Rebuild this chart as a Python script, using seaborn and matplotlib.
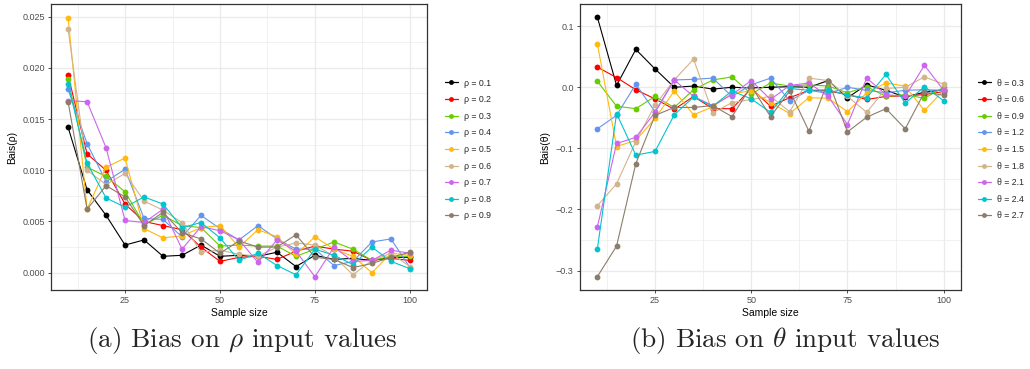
import numpy as np
import pandas as pd
import matplotlib
matplotlib.use("Agg")
import matplotlib.pyplot as plt
from matplotlib.lines import Line2D
from matplotlib.ticker import FixedLocator, FuncFormatter
import seaborn as sns

# ---------------- data ----------------
sample_size = [10, 15, 20, 25, 30, 35, 40, 45, 50, 55, 60, 65, 70, 75, 80, 85, 90, 95, 100]

rho_labels = ["ρ = 0.1", "ρ = 0.2", "ρ = 0.3", "ρ = 0.4", "ρ = 0.5",
              "ρ = 0.6", "ρ = 0.7", "ρ = 0.8", "ρ = 0.9"]
rho_bias = [
    [0.0142, 0.0081, 0.0056, 0.0027, 0.0032, 0.0016, 0.0017, 0.0027, 0.0016, 0.0017, 0.0016, 0.0020, 0.0006, 0.0017, 0.0013, 0.0014, 0.0012, 0.0015, 0.0015],
    [0.0193, 0.0116, 0.0100, 0.0067, 0.0050, 0.0046, 0.0042, 0.0025, 0.0011, 0.0015, 0.0016, 0.0013, 0.0021, 0.0026, 0.0023, 0.0021, 0.0012, 0.0014, 0.0012],
    [0.0189, 0.0103, 0.0094, 0.0079, 0.0047, 0.0056, 0.0046, 0.0044, 0.0026, 0.0027, 0.0026, 0.0026, 0.0016, 0.0023, 0.0030, 0.0023, 0.0012, 0.0016, 0.0016],
    [0.0179, 0.0126, 0.0089, 0.0101, 0.0053, 0.0052, 0.0035, 0.0056, 0.0043, 0.0032, 0.0046, 0.0033, 0.0023, 0.0023, 0.0007, 0.0011, 0.0030, 0.0033, 0.0005],
    [0.0249, 0.0062, 0.0103, 0.0112, 0.0043, 0.0034, 0.0036, 0.0044, 0.0046, 0.0025, 0.0042, 0.0035, 0.0018, 0.0035, 0.0023, 0.0016, 0.0000, 0.0019, 0.0017],
    [0.0238, 0.0100, 0.0086, 0.0097, 0.0070, 0.0061, 0.0049, 0.0020, 0.0022, 0.0018, 0.0016, 0.0025, 0.0029, 0.0027, 0.0016, -0.0002, 0.0012, 0.0019, 0.0006],
    [0.0168, 0.0167, 0.0122, 0.0051, 0.0049, 0.0062, 0.0023, 0.0045, 0.0041, 0.0032, 0.0010, 0.0032, 0.0021, -0.0004, 0.0025, 0.0011, 0.0012, 0.0022, 0.0019],
    [0.0184, 0.0107, 0.0073, 0.0064, 0.0074, 0.0067, 0.0044, 0.0049, 0.0034, 0.0012, 0.0019, 0.0007, -0.0002, 0.0023, 0.0017, 0.0008, 0.0025, 0.0011, 0.0004],
    [0.0167, 0.0062, 0.0085, 0.0074, 0.0046, 0.0059, 0.0039, 0.0033, 0.0019, 0.0031, 0.0025, 0.0025, 0.0037, 0.0015, 0.0013, 0.0005, 0.0009, 0.0015, 0.0020],
]

theta_labels = ["θ = 0.3", "θ = 0.6", "θ = 0.9", "θ = 1.2", "θ = 1.5",
                "θ = 1.8", "θ = 2.1", "θ = 2.4", "θ = 2.7"]
theta_bias = [
    [0.115, 0.003, 0.062, 0.030, 0.000, 0.002, -0.003, 0.000, -0.001, 0.000, 0.001, 0.000, 0.011, -0.017, 0.004, -0.005, -0.016, -0.008, -0.004],
    [0.033, 0.016, -0.004, -0.019, -0.036, -0.015, -0.035, -0.035, -0.002, -0.031, -0.017, -0.005, -0.006, -0.012, -0.020, -0.015, -0.014, -0.012, -0.007],
    [0.010, -0.031, -0.035, -0.015, -0.033, -0.004, 0.012, 0.017, -0.011, 0.007, 0.002, 0.004, 0.002, -0.009, 0.001, -0.015, -0.012, -0.018, 0.000],
    [-0.068, -0.046, 0.005, -0.040, 0.012, 0.013, 0.015, -0.015, 0.004, 0.015, -0.022, -0.005, -0.010, 0.000, -0.005, -0.009, -0.005, -0.004, -0.005],
    [0.0715, -0.097, -0.087, -0.051, -0.006, -0.045, -0.032, -0.010, -0.006, -0.025, -0.043, -0.017, -0.018, -0.040, -0.009, 0.007, 0.002, -0.038, -0.005],
    [-0.194, -0.158, -0.089, -0.029, 0.012, 0.046, -0.042, -0.025, -0.020, -0.015, -0.040, 0.015, 0.011, -0.015, -0.041, -0.002, 0.000, 0.017, 0.005],
    [-0.229, -0.092, -0.082, -0.041, 0.012, -0.015, -0.030, -0.012, 0.011, -0.020, 0.003, 0.007, -0.015, -0.061, 0.015, -0.012, -0.015, 0.036, -0.005],
    [-0.265, -0.043, -0.111, -0.105, -0.045, -0.016, -0.031, -0.006, -0.019, -0.041, -0.002, -0.005, -0.004, -0.013, -0.017, 0.021, -0.026, 0.001, -0.022],
    [-0.310, -0.260, -0.125, -0.046, -0.033, -0.033, -0.030, -0.048, 0.002, -0.048, -0.006, -0.072, 0.011, -0.073, -0.049, -0.035, -0.068, -0.008, -0.013],
]

colors = ["#000000", "#FF0000", "#66CD00", "#6495ED", "#FFB90F",
          "#D2B48C", "#CC66EE", "#00C5CD", "#8B7D6B"]

x_ticks = [25, 50, 75, 100]
rho_ticks = [0.000, 0.005, 0.010, 0.015, 0.020, 0.025]
theta_ticks = [-0.3, -0.2, -0.1, 0.0, 0.1]

# ---------------- style ----------------
sns.set_theme(style="white")
plt.rcParams["font.family"] = ["Liberation Sans", "DejaVu Sans"]
plt.rcParams["mathtext.fontset"] = "cm"

W, H = 1030, 369
fig = plt.figure(figsize=(W / 100, H / 100), dpi=100)


def frac_x(px):
    return px / W


def frac_y(py):
    return (H - py) / H


def make_df(labels, values):
    rows = []
    for lab, vals in zip(labels, values):
        for n, v in zip(sample_size, vals):
            rows.append({"n": n, "bias": v, "param": lab})
    return pd.DataFrame(rows)


def style_axes(ax, yticks, yminor, ylim, fmt, ylabel):
    ax.set_xlim(5.5, 104.5)
    ax.set_ylim(*ylim)
    ax.xaxis.set_major_locator(FixedLocator(x_ticks))
    ax.xaxis.set_minor_locator(FixedLocator([12.5, 37.5, 62.5, 87.5]))
    ax.yaxis.set_major_locator(FixedLocator(yticks))
    ax.yaxis.set_minor_locator(FixedLocator(yminor))
    ax.yaxis.set_major_formatter(FuncFormatter(fmt))
    ax.grid(which="major", color="#EBEBEB", linewidth=1.0)
    ax.grid(which="minor", color="#EBEBEB", linewidth=0.5)
    ax.set_axisbelow(True)
    for s in ax.spines.values():
        s.set_color("#333333")
        s.set_linewidth(0.9)
    ax.tick_params(which="major", length=2.5, width=0.6, color="#333333",
                   labelsize=6.5, labelcolor="#4D4D4D", pad=2, bottom=True, left=True)
    ax.tick_params(which="minor", length=0, bottom=False, left=False)
    ax.set_xlabel("Sample size", fontsize=7.5, color="black", labelpad=2)
    ax.set_ylabel(ylabel, fontsize=7.5, color="black", labelpad=4)


def draw_panel(ax, labels, values):
    df = make_df(labels, values)
    pal = dict(zip(labels, colors))
    sns.lineplot(data=df, x="n", y="bias", hue="param", hue_order=labels,
                 palette=pal, marker="o", markersize=4.2, markeredgewidth=0,
                 linewidth=0.8, legend=False, ax=ax, errorbar=None)


def add_legend(ax, labels, x_px):
    handles = [Line2D([0], [0], color=c, marker="o", markersize=3.5,
                      markeredgewidth=0, linewidth=0.9) for c in colors]
    ax.legend(handles, labels, loc="center left",
              bbox_to_anchor=(frac_x(x_px), frac_y(149.5)),
              bbox_transform=fig.transFigure, frameon=False, fontsize=6.3,
              handlelength=1.45, handletextpad=0.75, labelspacing=0.87,
              borderpad=0, borderaxespad=0)


# left panel
ax1 = fig.add_axes([frac_x(51), frac_y(290), frac_x(427) - frac_x(51), frac_y(4) - frac_y(290)])
draw_panel(ax1, rho_labels, rho_bias)
style_axes(ax1, rho_ticks, [0.0025, 0.0075, 0.0125, 0.0175, 0.0225],
           (-0.00169, 0.02624), lambda v, p: f"{v:.3f}", "Bais(ρ)")
add_legend(ax1, rho_labels, 445)

# right panel
ax2 = fig.add_axes([frac_x(580), frac_y(290), frac_x(961) - frac_x(580), frac_y(4) - frac_y(290)])
draw_panel(ax2, theta_labels, theta_bias)
style_axes(ax2, theta_ticks, [-0.25, -0.15, -0.05, 0.05],
           (-0.3318, 0.1363), lambda v, p: f"{v:.1f}".replace("-", "\u2212"), "Bais(θ)")
add_legend(ax2, theta_labels, 978)

# captions
fig.text(frac_x(242), frac_y(341), "(a) Bias on $\\rho$ input values",
         fontsize=19.5, family="cmr10", ha="center", va="center")
fig.text(frac_x(785), frac_y(341), "(b) Bias on $\\theta$ input values",
         fontsize=19.5, family="cmr10", ha="center", va="center")

fig.savefig("out.png", dpi=100)
